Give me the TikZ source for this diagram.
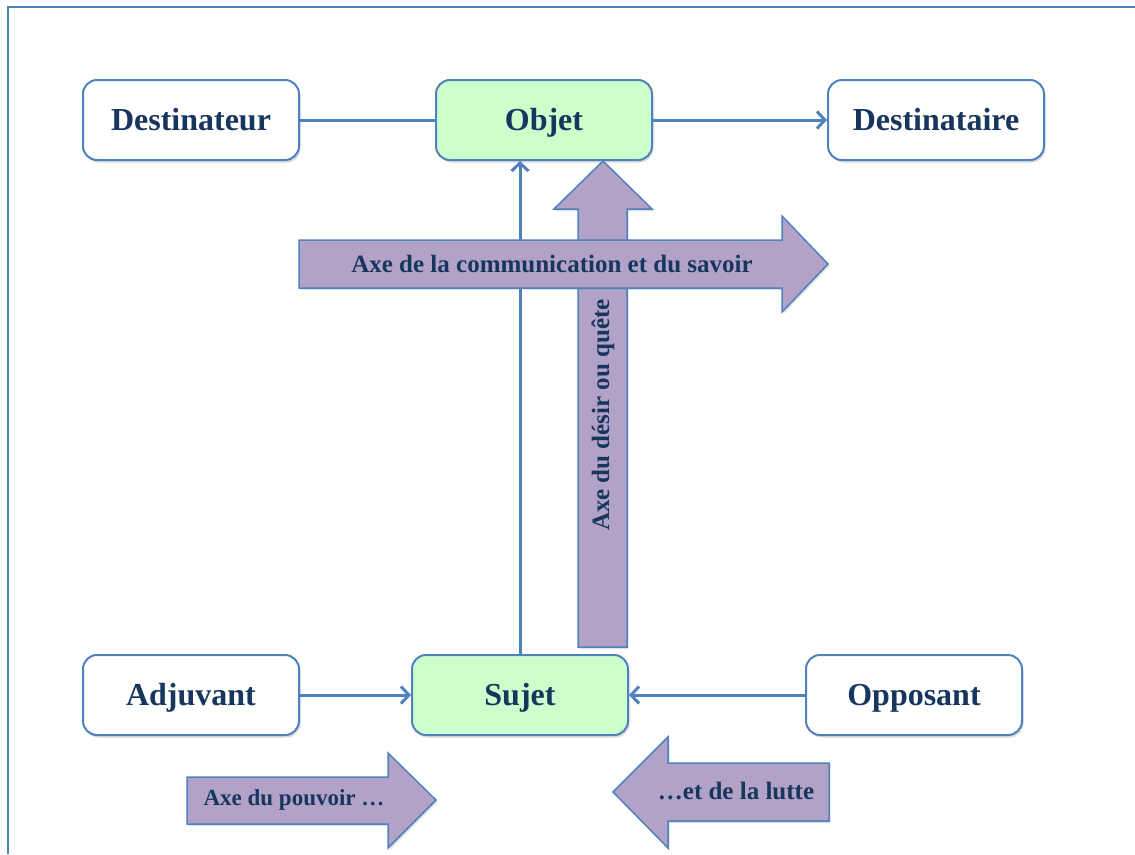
\documentclass[tikz,border=0pt]{standalone}
\usepackage{fontspec}
\setmainfont{Liberation Serif}
\usepackage{tikz}
\usetikzlibrary{arrows.meta, shadows}
\definecolor{bleuligne}{RGB}{79,129,189}
\definecolor{bleutexte}{RGB}{23,54,93}
\definecolor{vertclair}{RGB}{204,255,204}
\definecolor{violetaxe}{RGB}{179,162,199}
\tikzstyle{actant} = [draw=bleuligne, line width=2pt, fill=white, rectangle, rounded corners=14pt, minimum width=216pt, minimum height=80pt, text height=25pt, text depth=4pt, text=bleutexte, font=\bfseries\fontsize{32}{38}\selectfont, drop shadow={opacity=0.3, shadow xshift=1.5pt, shadow yshift=-2.5pt}]
\tikzstyle{central} = [actant, fill=vertclair]
\tikzstyle{axe} = [draw=bleuligne, line width=1.5pt, fill=violetaxe, line join=miter, drop shadow={opacity=0.25, shadow xshift=1.5pt, shadow yshift=-2pt}]
\tikzstyle{texteaxe} = [text=bleutexte, font=\bfseries\fontsize{25}{30}\selectfont, inner sep=0pt]
\tikzstyle{lien} = [draw=bleuligne, line width=3pt]
\tikzstyle{fleche} = [lien, -{Straight Barb[length=8pt, width=17pt]}]

\begin{document}
\begin{tikzpicture}[x=1pt, y=-1pt]
	\useasboundingbox (0,0) rectangle (1135,854);
	\draw[bleuligne, line width=2pt] (8,854) -- (8,7) -- (1135,7);
	% actants
	\node[actant] (destinateur) at (191,120) {Destinateur};
	\node[central] (objet) at (544,120) {Objet};
	\node[actant] (destinataire) at (936,120) {Destinataire};
	\node[actant] (adjuvant) at (191,695) {Adjuvant};
	\node[central] (sujet) at (520,695) {Sujet};
	\node[actant] (opposant) at (914,695) {Opposant};
	% liens
	\draw[lien] (destinateur) -- (objet);
	\draw[fleche] (objet) -- (destinataire);
	\draw[fleche] (adjuvant) -- (sujet);
	\draw[fleche] (opposant) -- (sujet);
	\draw[fleche] (sujet.north) -- (sujet.north |- objet.south);
	% axes
	\draw[axe] (578,647) -- (578,209) -- (554,209) -- (603,161) -- (652,209) -- (627,209) -- (627,647) -- cycle;
	\node[texteaxe, rotate=90] (desir) at (603,415) {Axe du désir ou quête};
	\draw[axe] (299,240) -- (782,240) -- (782,216) -- (828,264) -- (782,312) -- (782,288) -- (299,288) -- cycle;
	\node[texteaxe] (communication) at (552,264) {Axe de la communication et du savoir};
	\draw[axe] (187,777) -- (388,777) -- (388,753) -- (436,800) -- (388,848) -- (388,824) -- (187,824) -- cycle;
	\node[texteaxe, font=\bfseries\fontsize{23}{28}\selectfont] (pouvoir) at (294,800) {Axe du pouvoir …};
	\draw[axe] (829,763) -- (668,763) -- (668,737) -- (613,792) -- (668,848) -- (668,821) -- (829,821) -- cycle;
	\node[texteaxe] (lutte) at (736,791) {…et de la lutte};
\end{tikzpicture}
\end{document}
